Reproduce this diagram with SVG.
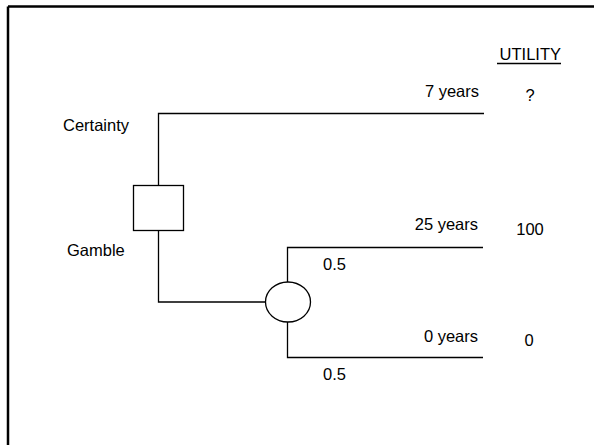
<svg xmlns="http://www.w3.org/2000/svg" width="594" height="445" viewBox="0 0 594 445">
<style>
text{font-family:"Liberation Sans",Arial,sans-serif;font-size:16.5px;fill:#000}
.ln{stroke:#000;stroke-width:1.3;fill:none}
.r{text-anchor:end}
.m{text-anchor:middle}
</style>
<rect width="594" height="445" fill="#fff"/>
<path d="M8 6.5 H600 M8 6.5 V450" stroke="#000" stroke-width="2.5" fill="none"/>
<g id="connectors" class="ln">
<path d="M158.5 186 V113.5 H484"/>
<path d="M158.5 230 V302 H266"/>
<path d="M287.5 282 V247.5 H483"/>
<path d="M287.5 322 V357.5 H483"/>
</g>
<g id="decision"><rect x="133.5" y="185.5" width="50" height="45" fill="#fff" stroke="#000" stroke-width="1.3"/></g>
<g id="chance"><ellipse cx="288" cy="302" rx="22.5" ry="20" fill="#fff" stroke="#000" stroke-width="1.3"/></g>
<g id="labels">
<text x="561" y="60" class="r" font-size="17">UTILITY</text>
<line x1="497" y1="63.5" x2="561" y2="63.5" stroke="#000" stroke-width="1.4"/>
<text x="479" y="97" class="r">7 years</text>
<text x="530" y="101" class="m">?</text>
<text x="63" y="131">Certainty</text>
<text x="67" y="256">Gamble</text>
<text x="478" y="230" class="r">25 years</text>
<text x="530" y="235" class="m">100</text>
<text x="323" y="270">0.5</text>
<text x="478" y="342" class="r">0 years</text>
<text x="529" y="346" class="m">0</text>
<text x="323" y="380">0.5</text>
</g>
</svg>
